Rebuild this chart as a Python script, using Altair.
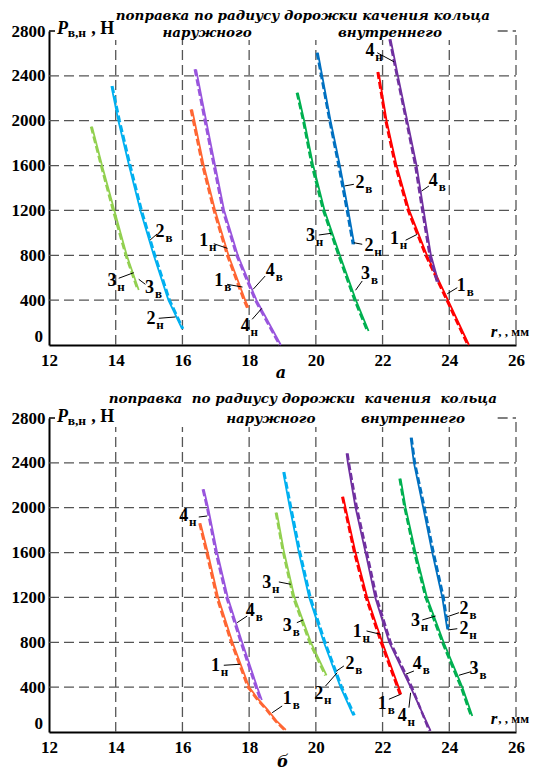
import altair as alt
import pandas as pd

# ---------------- axes ----------------
X_TICKS = [12, 14, 16, 18, 20, 22, 24, 26]
Y_TICKS = [0, 400, 800, 1200, 1600, 2000, 2400, 2800]
GRID_X = [14, 16, 18, 20, 22, 24]
GRID_Y = [400, 800, 1200, 1600, 2000, 2400]

# ---------------- panel а : curves (y, x solid "н", x dashed "в") ----------------
a_o3_y = [1947, 1600, 1200, 800, 490]
a_o3_xn = [13.29, 13.59, 13.96, 14.33, 14.69]
a_o3_xv = [13.26, 13.56, 13.92, 14.30, 14.66]

a_o2_y = [2309, 2000, 1600, 1200, 800, 400, 145]
a_o2_xn = [13.87, 14.08, 14.40, 14.74, 15.14, 15.58, 15.99]
a_o2_xv = [13.90, 14.12, 14.44, 14.78, 15.18, 15.62, 16.02]

a_o1_y = [2101, 1600, 1200, 800, 400, 333]
a_o1_xn = [16.29, 16.64, 16.98, 17.38, 17.88, 17.98]
a_o1_xv = [16.25, 16.60, 16.94, 17.34, 17.84, 17.94]

a_o4_y = [2458, 2000, 1600, 1200, 800, 400, 0]
a_o4_xn = [16.41, 16.71, 16.98, 17.25, 17.66, 18.22, 18.95]
a_o4_xv = [16.37, 16.67, 16.94, 17.21, 17.62, 18.18, 18.91]

a_i3_y = [2250, 2000, 1600, 1200, 800, 400, 125]
a_i3_xn = [19.46, 19.65, 19.92, 20.26, 20.72, 21.20, 21.58]
a_i3_xv = [19.43, 19.62, 19.88, 20.22, 20.68, 21.16, 21.54]

a_i2_y = [2606, 2400, 2000, 1600, 1200, 898]
a_i2_xn = [20.06, 20.19, 20.44, 20.72, 20.97, 21.15]
a_i2_xv = [20.03, 20.16, 20.41, 20.68, 20.93, 21.11]

a_i1_y = [2434, 2000, 1600, 1200, 800, 400, 0]
a_i1_xn = [21.88, 22.12, 22.42, 22.80, 23.33, 23.96, 24.59]
a_i1_xv = [21.85, 22.09, 22.38, 22.76, 23.29, 23.92, 24.55]

a_i4_y = [2726, 2400, 2000, 1600, 1200, 800, 556]
a_i4_xn = [22.24, 22.46, 22.74, 23.02, 23.23, 23.45, 23.68]
a_i4_xv = [22.21, 22.43, 22.71, 22.98, 23.19, 23.41, 23.64]

# ---------------- panel б ----------------
b_o4_y = [2164, 2000, 1600, 1200, 800, 400, 285]
b_o4_xn = [16.64, 16.77, 17.04, 17.36, 17.79, 18.24, 18.38]
b_o4_xv = [16.61, 16.74, 17.00, 17.32, 17.75, 18.20, 18.34]

b_o1_y = [1861, 1600, 1200, 800, 400, 300, 200, 100, 18]
b_o1_xn = [16.54, 16.76, 17.07, 17.50, 18.00, 18.25, 18.55, 18.82, 19.10]
b_o1_xv = [16.51, 16.72, 17.03, 17.46, 17.96, 18.21, 18.51, 18.78, 19.06]

b_o3_y = [1956, 1600, 1200, 800, 505]
b_o3_xn = [18.83, 19.05, 19.36, 19.85, 20.32]
b_o3_xv = [18.80, 19.02, 19.32, 19.81, 20.28]

b_o2_y = [2318, 2000, 1600, 1200, 800, 400, 149]
b_o2_xn = [19.02, 19.22, 19.49, 19.80, 20.24, 20.74, 21.12]
b_o2_xv = [19.05, 19.26, 19.53, 19.84, 20.28, 20.78, 21.16]

b_i1_y = [2098, 2000, 1600, 1200, 800, 336]
b_i1_xn = [20.82, 20.89, 21.19, 21.54, 21.99, 22.56]
b_i1_xv = [20.79, 20.86, 21.15, 21.50, 21.95, 22.52]

b_i4_y = [2485, 2400, 2000, 1600, 1200, 800, 400, 9]
b_i4_xn = [20.92, 20.96, 21.19, 21.49, 21.78, 22.20, 22.84, 23.44]
b_i4_xv = [20.95, 20.99, 21.23, 21.53, 21.82, 22.24, 22.88, 23.40]

b_i3_y = [2259, 2000, 1600, 1200, 800, 400, 143]
b_i3_xn = [22.54, 22.69, 22.99, 23.33, 23.83, 24.39, 24.69]
b_i3_xv = [22.51, 22.66, 22.95, 23.29, 23.79, 24.35, 24.65]

b_i2_y = [2624, 2400, 2000, 1600, 1200, 916]
b_i2_xn = [22.84, 22.94, 23.22, 23.49, 23.79, 23.94]
b_i2_xv = [22.87, 22.97, 23.26, 23.53, 23.83, 23.97]

COLOURS_A = {"o3": "#92d050", "o2": "#00b0f0", "o1": "#ff6633", "o4": "#9955dd",
             "i3": "#00b050", "i2": "#0070c0", "i1": "#ff0000", "i4": "#7030a0"}
COLOURS_B = {"o3": "#92d050", "o2": "#00b0f0", "o1": "#ff6633", "o4": "#9955dd",
             "i3": "#00b050", "i2": "#0070c0", "i1": "#ff0000", "i4": "#7030a0"}

# ---------------- curve labels ----------------
lab_a_d = ["2", "3", "3", "2", "1", "1", "4", "4", "3", "2", "3", "1", "1", "2", "4", "4"]
lab_a_s = ["в", "н", "в", "н", "н", "в", "в", "н", "н", "н", "в", "н", "в", "в", "в", "н"]
lab_a_x = [15.33, 13.89, 15.01, 15.06, 16.64, 17.09, 18.63, 17.88, 19.84, 21.59, 21.49, 22.36, 24.36, 21.32, 23.52, 21.62]
lab_a_y = [1008, 571, 511, 229, 927, 571, 660, 169, 972, 883, 630, 943, 526, 1447, 1462, 2622]
lead_a_x1 = [15.24, 14.09, 14.89, 15.29, 16.94, 17.34, 18.48, 18.09, 20.09, 21.39, 21.39, 22.69, 24.24, 21.14, 23.39, 21.84]
lead_a_y1 = [990, 595, 541, 238, 903, 541, 615, 229, 981, 898, 571, 934, 511, 1433, 1418, 2606]
lead_a_x2 = [15.03, 14.54, 14.69, 15.79, 17.35, 17.80, 18.12, 18.38, 20.46, 21.14, 21.19, 23.04, 23.94, 20.86, 23.17, 22.34]
lead_a_y2 = [936, 645, 586, 250, 862, 517, 497, 327, 996, 912, 488, 987, 457, 1418, 1373, 2526]

lab_b_d = ["4", "1", "4", "3", "3", "2", "2", "1", "4", "4", "1", "3", "2", "2", "3", "1"]
lab_b_s = ["н", "н", "в", "н", "в", "в", "н", "в", "н", "в", "н", "н", "в", "н", "в", "в"]
lab_b_x = [16.04, 16.99, 18.03, 18.53, 19.14, 21.02, 20.09, 21.99, 22.59, 23.04, 21.24, 22.99, 24.44, 24.44, 24.74, 19.14]
lab_b_y = [1926, 589, 1079, 1331, 945, 604, 336, 247, 143, 604, 892, 990, 1099, 916, 564, 292]
lead_b_x1 = [16.49, 17.24, 17.94, 18.89, 19.43, 20.84, 20.29, 22.19, 22.79, 22.94, 21.52, 23.19, 24.29, 24.24, 24.62, 18.99]
lead_b_y1 = [1917, 595, 1034, 1338, 975, 589, 410, 292, 217, 544, 901, 999, 1064, 921, 535, 232]
lead_b_x2 = [16.74, 17.73, 17.64, 19.25, 19.62, 20.62, 20.64, 22.54, 22.84, 22.69, 21.94, 23.59, 23.94, 23.96, 24.29, 18.69]
lead_b_y2 = [1926, 604, 975, 1317, 999, 544, 529, 336, 350, 515, 871, 1034, 1028, 910, 506, 172]

# ---------------- texts ----------------
TITLE_A = "поправка по радиусу дорожки качения кольца"
TITLE_B = "поправка\u00a0 по радиусу дорожки\u00a0 качения\u00a0 кольца"
OUTER = "наружного"
INNER = "внутреннего"
CAPTIONS = ["а", "б"]
Y_TITLE = ["P", "в,н", ", Н"]
X_TITLE = ["r", ", , мм"]

SERIF = "Liberation Serif"
TSERIF = "DejaVu Serif"

xs = alt.Scale(domain=[12, 26], nice=False, zero=False)
ys = alt.Scale(domain=[0, 2800], nice=False, zero=False)

AX = alt.Axis(values=X_TICKS, format="d", title=None, grid=False, ticks=False,
              domainColor="black", domainWidth=2, labelFont=SERIF, labelFontWeight="bold",
              labelFontSize=17, labelColor="black", labelPadding=7, labelFlush=False,
              labelOverlap=False)
# the "0" label is raised above the x axis, as in the original, so it is drawn as text
AY = alt.Axis(values=Y_TICKS[1:], format="d", title=None, grid=False, ticks=False,
              domainColor="black", domainWidth=2, labelFont=SERIF, labelFontWeight="bold",
              labelFontSize=17, labelColor="black", labelPadding=4, labelFlush=False,
              labelOverlap=False)


def X():
    return alt.X("x:Q", scale=xs, axis=AX)


def Y():
    return alt.Y("y:Q", scale=ys, axis=AY)


def curves_df(spec, colours):
    rows = []
    for key, yv, xn, xv in spec:
        for i, (yy, a, b) in enumerate(zip(yv, xn, xv)):
            rows.append(dict(curve=key, kind="н", colour=colours[key], i=i, x=a, y=yy))
            rows.append(dict(curve=key, kind="в", colour=colours[key], i=i, x=b, y=yy))
    return pd.DataFrame(rows)


def rule_layer(df, **style):
    return alt.Chart(df).mark_rule(**style).encode(x=X(), x2="x2:Q", y=Y(), y2="y2:Q")


def text_layer(df, **style):
    return alt.Chart(df).mark_text(**style).encode(x=X(), y=Y(), text="t:N")


def panel(spec, colours, ld, ls, lx, ly, lx1, ly1, lx2, ly2, title, t1y, ox, ix, t2y, cap, capx, capy, py):
    grid_h = pd.DataFrame({"x": [12] * len(GRID_Y), "x2": [26] * len(GRID_Y), "y": GRID_Y, "y2": GRID_Y})
    grid_v = pd.DataFrame({"x": GRID_X, "x2": GRID_X, "y": [0] * len(GRID_X), "y2": [2720] * len(GRID_X)})
    border = pd.DataFrame({"x": [26, 25.45], "x2": [26, 26], "y": [0, 2800], "y2": [2800, 2800]})
    corner = pd.DataFrame({"x": [12], "x2": [12.18], "y": [2800], "y2": [2800]})
    dash = dict(color="#555555", strokeWidth=1.3, strokeDash=[10, 5])

    df = curves_df(spec, colours)
    solid = alt.Chart(df[df.kind == "н"]).mark_line(strokeWidth=1.8).encode(
        x=X(), y=Y(), color=alt.Color("colour:N", scale=None),
        detail="curve:N", order="i:Q")
    dashed = alt.Chart(df[df.kind == "в"]).mark_line(strokeWidth=2.4, strokeDash=[7, 3]).encode(
        x=X(), y=Y(), color=alt.Color("colour:N", scale=None),
        detail="curve:N", order="i:Q")

    leaders = pd.DataFrame({"x": lx1, "y": ly1, "x2": lx2, "y2": ly2})
    digits = pd.DataFrame({"x": lx, "y": ly, "t": ld})
    subs = pd.DataFrame({"x": lx, "y": ly, "t": ls})

    titles1 = pd.DataFrame({"x": [19.61], "y": [t1y], "t": [title]})
    titles2 = pd.DataFrame({"x": [ox, ix], "y": [t2y, t2y], "t": [OUTER, INNER]})
    capdf = pd.DataFrame({"x": [capx], "y": [capy], "t": [cap]})
    p_df = pd.DataFrame({"x": [12.24], "y": [py], "t": [Y_TITLE[0]]})
    p_sub = pd.DataFrame({"x": [12.56], "y": [py - 32], "t": [Y_TITLE[1]]})
    p_unit = pd.DataFrame({"x": [13.27], "y": [py], "t": [Y_TITLE[2]]})
    r_df = pd.DataFrame({"x": [25.34], "y": [116], "t": [X_TITLE[0]]})
    r_unit = pd.DataFrame({"x": [25.47], "y": [116], "t": [X_TITLE[1]]})
    zero_df = pd.DataFrame({"x": [X_TICKS[0]], "y": [Y_TICKS[0]], "t": [str(Y_TICKS[0])]})

    layers = [
        rule_layer(grid_h, **dash),
        rule_layer(grid_v, **dash),
        rule_layer(border, **dash),
        rule_layer(corner, color="black", strokeWidth=1.5),
        solid,
        dashed,
        rule_layer(leaders, color="black", strokeWidth=1),
        text_layer(digits, font=SERIF, fontWeight="bold", fontSize=18, align="center", baseline="middle", color="black"),
        text_layer(subs, font=SERIF, fontWeight="bold", fontSize=13, align="center", baseline="middle", dx=9, dy=6, color="black"),
        text_layer(titles1, font=TSERIF, fontWeight="bold", fontStyle="italic", fontSize=13.5, align="center", baseline="middle", color="black"),
        text_layer(titles2, font=TSERIF, fontWeight="bold", fontStyle="italic", fontSize=13.5, align="center", baseline="middle", color="black"),
        text_layer(capdf, font=TSERIF, fontWeight="bold", fontStyle="italic", fontSize=16, align="center", baseline="middle", color="black"),
        text_layer(p_df, font=SERIF, fontWeight="bold", fontStyle="italic", fontSize=18, align="left", baseline="middle", color="black"),
        text_layer(p_sub, font=SERIF, fontWeight="bold", fontSize=13.5, align="left", baseline="middle", color="black"),
        text_layer(p_unit, font=SERIF, fontWeight="bold", fontSize=18, align="left", baseline="middle", color="black"),
        text_layer(r_df, font=SERIF, fontWeight="bold", fontStyle="italic", fontSize=17, align="center", baseline="middle", color="black"),
        text_layer(r_unit, font=SERIF, fontWeight="bold", fontSize=13, align="left", baseline="middle", color="black"),
        text_layer(zero_df, font=SERIF, fontWeight="bold", fontSize=17, align="right", baseline="middle", dx=-6, dy=-8, color="black"),
    ]
    return alt.layer(*layers).properties(width=467, height=314)


spec_a = [("o3", a_o3_y, a_o3_xn, a_o3_xv), ("o2", a_o2_y, a_o2_xn, a_o2_xv),
          ("o1", a_o1_y, a_o1_xn, a_o1_xv), ("o4", a_o4_y, a_o4_xn, a_o4_xv),
          ("i3", a_i3_y, a_i3_xn, a_i3_xv), ("i2", a_i2_y, a_i2_xn, a_i2_xv),
          ("i1", a_i1_y, a_i1_xn, a_i1_xv), ("i4", a_i4_y, a_i4_xn, a_i4_xv)]
spec_b = [("o4", b_o4_y, b_o4_xn, b_o4_xv), ("o1", b_o1_y, b_o1_xn, b_o1_xv),
          ("o3", b_o3_y, b_o3_xn, b_o3_xv), ("o2", b_o2_y, b_o2_xn, b_o2_xv),
          ("i1", b_i1_y, b_i1_xn, b_i1_xv), ("i4", b_i4_y, b_i4_xn, b_i4_xv),
          ("i3", b_i3_y, b_i3_xn, b_i3_xv), ("i2", b_i2_y, b_i2_xn, b_i2_xv)]

top = panel(spec_a, COLOURS_A, lab_a_d, lab_a_s, lab_a_x, lab_a_y,
            lead_a_x1, lead_a_y1, lead_a_x2, lead_a_y2,
            TITLE_A, 2934, 16.74, 22.22, 2782, CAPTIONS[0], 18.95, -250, 2818)
bottom = panel(spec_b, COLOURS_B, lab_b_d, lab_b_s, lab_b_x, lab_b_y,
               lead_b_x1, lead_b_y1, lead_b_x2, lead_b_y2,
               TITLE_B, 2970, 18.65, 22.91, 2791, CAPTIONS[1], 19.01, -265, 2809)

chart = alt.vconcat(top, bottom, spacing=73, bounds="flush").properties(
    padding={"left": 3, "top": 0, "right": 0, "bottom": 0}
).configure_view(stroke=None)

chart.save("out.html", embed_options={"renderer": "svg", "actions": False})
